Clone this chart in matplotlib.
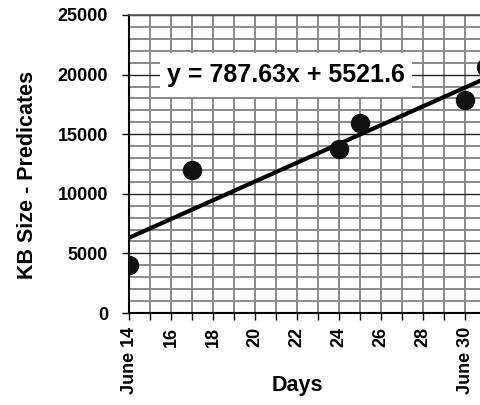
import matplotlib.pyplot as plt
import numpy as np
from matplotlib.patches import Rectangle
from matplotlib.ticker import MultipleLocator

plt.rcParams['font.family'] = ['Liberation Sans', 'DejaVu Sans']
plt.rcParams['font.weight'] = 'bold'

# data (day of June, KB size)
days = [14, 17, 24, 25, 30, 31]
kb_size = [4000, 12000, 13800, 15900, 17900, 20600]

# trendline from the chart, x counted from June 13
slope = 787.63
intercept = 5521.6
day_zero = 13

tick_days = [14, 16, 18, 20, 22, 24, 26, 28, 30]
tick_labels = ['June 14', '16', '18', '20', '22', '24', '26', '28', 'June 30']

fig = plt.figure(figsize=(4.8, 4.05), dpi=100)
ax_w = 367.5
ax_h = 298
ax = fig.add_axes([129 / 480, 92 / 405, ax_w / 480, ax_h / 405])

ax.set_xlim(14, 31.5)
ax.set_ylim(0, 25000)

# grid
ax.xaxis.set_minor_locator(MultipleLocator(1))
ax.yaxis.set_minor_locator(MultipleLocator(1000))
ax.grid(which='minor', axis='both', color='#8a8a8a', linewidth=1.4, zorder=0)
ax.grid(which='major', axis='x', color='#8a8a8a', linewidth=1.4, zorder=0)
ax.grid(which='major', axis='y', color='#222222', linewidth=1.0, zorder=0)

ax.set_xticks(tick_days)
ax.set_xticklabels(tick_labels, rotation=90, fontsize=13, fontweight='bold')
ax.set_yticks(np.arange(0, 25001, 5000))
ax.tick_params(axis='y', which='major', length=5, width=1, labelsize=13, pad=10)
ax.tick_params(axis='y', which='minor', length=0)
ax.tick_params(axis='x', which='both', length=5, width=1, pad=5)
for lab in ax.get_yticklabels():
    lab.set_fontweight('bold')

for side in ['left', 'bottom']:
    ax.spines[side].set_linewidth(1.5)
    ax.spines[side].set_color('black')
ax.spines['top'].set_color('#555555')
ax.spines['top'].set_linewidth(1.2)
ax.spines['right'].set_visible(False)

# trendline
xs = np.array([14, 31.5])
ax.plot(xs, slope * (xs - day_zero) + intercept, color='black', linewidth=3, zorder=3,
        solid_capstyle='butt')

# points
ax.plot(days, kb_size, 'o', color='#111111', markersize=13, zorder=4)

# equation label on a white box
box = Rectangle(((160 - 129) / ax_w, (313 - 97) / ax_h), 252 / ax_w, 44 / ax_h,
                transform=ax.transAxes, facecolor='white', edgecolor='none', zorder=2)
ax.add_patch(box)
ax.text((286 - 129) / ax_w, (313 - 75) / ax_h, 'y = 787.63x + 5521.6', transform=ax.transAxes,
        ha='center', va='center', fontsize=18, fontweight='bold', zorder=5)

ax.set_xlabel('Days', fontsize=15.5, fontweight='bold')
ax.set_ylabel('KB Size - Predicates', fontsize=15.5, fontweight='bold')
ax.xaxis.set_label_coords((297 - 129) / ax_w, -(375 - 313) / ax_h)
ax.yaxis.set_label_coords(-(129 - 38) / ax_w, (313 - 175) / ax_h)

fig.savefig('out.png', dpi=100)
